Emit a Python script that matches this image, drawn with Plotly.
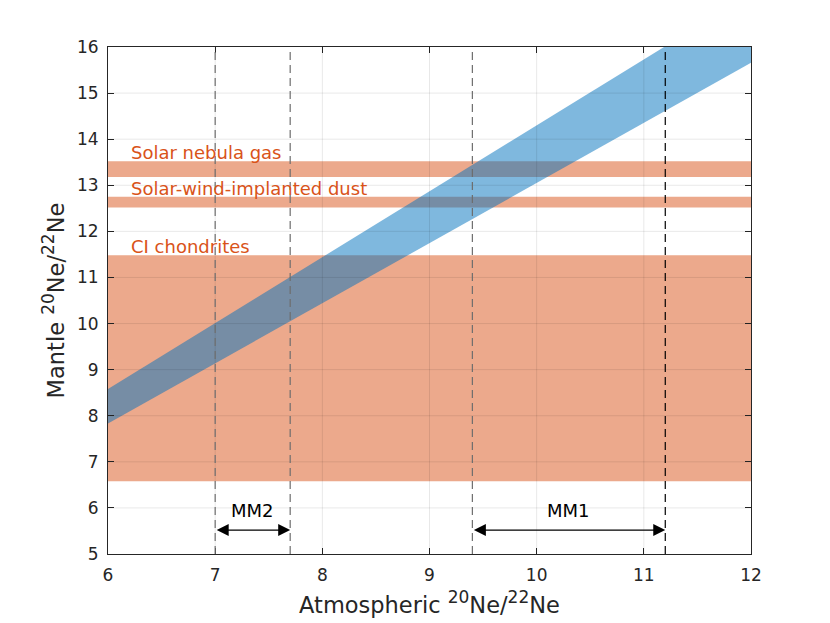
import plotly.graph_objects as go

# Data
band_names = ["Solar nebula gas", "Solar-wind-implanted dust", "CI chondrites"]
band_low = [13.18, 12.52, 6.58]
band_high = [13.52, 12.75, 11.48]
label_x = [6.2, 6.2, 6.2]
label_y = [13.72, 12.93, 11.68]

line_x = [6.0, 12.0]
upper_y = [8.58, 17.16]
lower_y = [7.83, 15.66]

vlines_x = [7.0, 7.7, 9.4, 11.2]
vlines_color = ["#6e6e6e", "#6e6e6e", "#6e6e6e", "#000000"]

ranges = [("MM2", 7.0, 7.7), ("MM1", 9.4, 11.2)]
arrow_y = 5.52
range_label_y = 5.95

xmin, xmax, ymin, ymax = 6, 12, 5, 16

orange_fill = "rgba(217,83,25,0.5)"
blue_fill = "rgba(0,114,189,0.5)"
orange_text = "#D95319"

def sup(s):
    return "<sup><span style='font-size:17px'>" + s + "</span></sup>"

fig = go.Figure()

for lo, hi in zip(band_low, band_high):
    fig.add_trace(go.Scatter(
        x=[xmin, xmax, xmax, xmin, xmin], y=[lo, lo, hi, hi, lo],
        fill="toself", fillcolor=orange_fill, line=dict(width=0),
        mode="lines", hoverinfo="skip", showlegend=False))

fig.add_trace(go.Scatter(
    x=line_x + line_x[::-1], y=upper_y + lower_y[::-1],
    fill="toself", fillcolor=blue_fill, line=dict(width=0),
    mode="lines", hoverinfo="skip", showlegend=False))

shapes = []
# faint grid drawn over the fills
for gx in range(xmin + 1, xmax):
    shapes.append(dict(type="line", xref="x", yref="y", x0=gx, x1=gx, y0=ymin, y1=ymax,
                       line=dict(color="rgba(0,0,0,0.09)", width=1), layer="above"))
for gy in range(ymin + 1, ymax):
    shapes.append(dict(type="line", xref="x", yref="y", x0=xmin, x1=xmax, y0=gy, y1=gy,
                       line=dict(color="rgba(0,0,0,0.09)", width=1), layer="above"))
for vx, vc in zip(vlines_x, vlines_color):
    shapes.append(dict(type="line", xref="x", yref="y", x0=vx, x1=vx, y0=ymin, y1=ymax,
                       line=dict(color=vc, width=1.2, dash="8px,5px"), layer="above"))

annotations = []
for name, y, lx in zip(band_names, label_y, label_x):
    annotations.append(dict(x=lx, y=y, xref="x", yref="y", text=name, showarrow=False,
                            xanchor="left", yanchor="middle",
                            font=dict(size=18, color=orange_text)))
for name, a, b in ranges:
    annotations.append(dict(x=b, y=arrow_y, ax=a, ay=arrow_y, xref="x", yref="y",
                            axref="x", ayref="y", text="", showarrow=True,
                            arrowhead=2, startarrowhead=2, arrowside="end+start",
                            arrowsize=2, startarrowsize=2, arrowwidth=1.2,
                            arrowcolor="black"))
    annotations.append(dict(x=(a + b) / 2, y=range_label_y, xref="x", yref="y", text=name,
                            showarrow=False, font=dict(size=18, color="black")))

axis_common = dict(showgrid=False, zeroline=False,
                   showline=True, linecolor="#262626", linewidth=1, mirror="ticks",
                   ticks="inside", ticklen=6, tickcolor="#262626",
                   tickfont=dict(size=17, color="#262626"))

fig.update_layout(
    width=830, height=623,
    margin=dict(l=100, r=87, t=39, b=77),
    paper_bgcolor="white", plot_bgcolor="white",
    font=dict(family="DejaVu Sans", color="#262626"),
    shapes=shapes, annotations=annotations,
    xaxis=dict(range=[xmin, xmax], dtick=1, tick0=6, ticklabelstandoff=6,
               title=dict(text="Atmospheric " + sup("20") + "Ne/" + sup("22") + "Ne",
                          font=dict(size=22.5), standoff=12), **axis_common),
    yaxis=dict(range=[ymin, ymax], dtick=1, tick0=5, ticklabelstandoff=5,
               title=dict(text="Mantle " + sup("20") + "Ne/" + sup("22") + "Ne",
                          font=dict(size=22.5), standoff=6), **axis_common),
)

fig.write_html("out.html")
